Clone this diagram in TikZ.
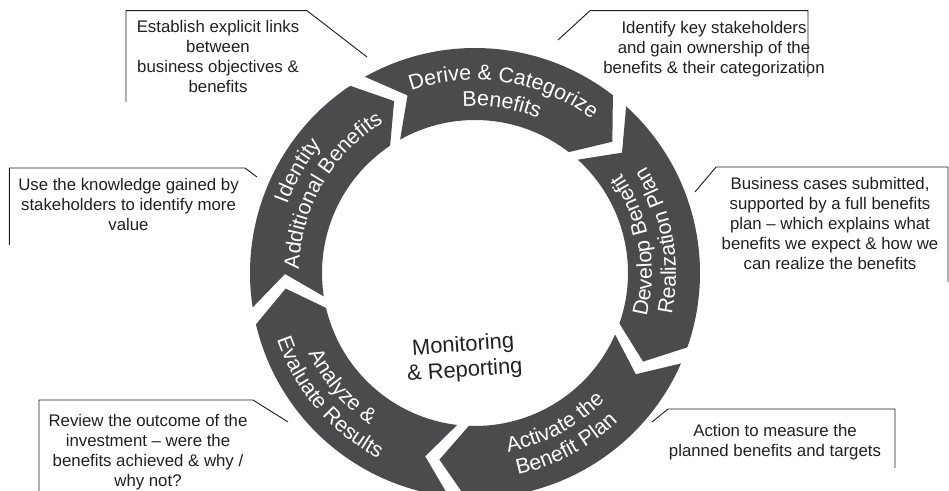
\documentclass[tikz,border=0pt]{standalone}
\usepackage{fontspec}
\setmainfont{Liberation Sans}
\definecolor{ringgray}{RGB}{74,75,77}
\definecolor{inkcol}{RGB}{35,31,32}
\newcommand\ringfont{\fontsize{16}{19}\selectfont}
\newcommand\callfont{\fontsize{12.6}{15}\selectfont}
\newcommand\ringRo{225}
\newcommand\ringRi{153}
\newcommand\ringRm{190}
\newcommand\ringGap{2.2}
\newcommand\ringTip{8.5}
% #1 trailing boundary angle, #2 leading boundary angle
\newcommand\chevseg[2]{%
  \fill[seg] ({#1-\ringGap}:\ringRo) arc[start angle={#1-\ringGap}, end angle={#2+\ringGap}, radius=\ringRo]
    -- ({#2+\ringGap-\ringTip}:\ringRm) -- ({#2+\ringGap}:\ringRi)
    arc[start angle={#2+\ringGap}, end angle={#1-\ringGap}, radius=\ringRi]
    -- ({#1-\ringGap-\ringTip}:\ringRm) -- cycle;}
% ---- glyph advance widths of Liberation Sans (1/1000 em) ----
\newcommand\setcw[2]{\expandafter\def\csname cw#1\endcsname{#2}}
\setcw{A}{667}\setcw{B}{667}\setcw{C}{722}\setcw{D}{722}\setcw{E}{667}
\setcw{I}{278}\setcw{P}{667}\setcw{R}{722}
\setcw{a}{556}\setcw{c}{500}\setcw{d}{556}\setcw{e}{556}\setcw{f}{278}
\setcw{g}{556}\setcw{h}{556}\setcw{i}{222}\setcw{l}{222}\setcw{n}{556}
\setcw{o}{556}\setcw{p}{556}\setcw{r}{333}\setcw{s}{500}\setcw{t}{278}
\setcw{u}{556}\setcw{v}{500}\setcw{y}{500}\setcw{z}{500}
\expandafter\def\csname cw\string\&\endcsname{667}
\expandafter\def\csname cw\string~\endcsname{278}
% ---- curved text, character by character ----
\newcounter{arcchar}
\def\arcend{ARCEND}
% one em of \ringfont = 16pt = 21.3333 picture units
\newcommand\arcem{0.0213333}
% #1 centre angle, #2 radius (picture units), #3 direction (1 = ccw, -1 = cw), #4 text (spaces as ~)
\newcommand\arctext[4]{%
  \gdef\arcsumv{0}%
  \arcsum#4\arcend
  \gdef\arcr{#2}\gdef\arcdir{#3}%
  \pgfmathparse{#1-(\arcdir)*\arcsumv*\arcem/\arcr*57.29578/2}\global\let\arccur\pgfmathresult
  \arcstep#4\arcend}
\def\arcsum#1{\ifx#1\arcend\else
  \pgfmathparse{\arcsumv+\csname cw\string#1\endcsname}\global\let\arcsumv\pgfmathresult
  \expandafter\arcsum\fi}
\def\arcstep#1{\ifx#1\arcend\else\arcput{#1}\expandafter\arcstep\fi}
\newcommand\arcput[1]{%
  \edef\arcwv{\csname cw\string#1\endcsname}%
  \pgfmathparse{\arccur+(\arcdir)*\arcwv*\arcem/\arcr*57.29578/2}\global\let\arcmid\pgfmathresult
  \pgfmathparse{\arcmid+(\arcdir)*90}\global\let\arcrot\pgfmathresult
  \stepcounter{arcchar}%
  \node[ringchar, rotate=\arcrot] (rc\thearcchar) at (\arcmid:\arcr) {#1};%
  \pgfmathparse{\arccur+(\arcdir)*\arcwv*\arcem/\arcr*57.29578}\global\let\arccur\pgfmathresult}
\begin{document}
\begin{tikzpicture}[x=0.75pt,y=0.75pt,
  seg/.style={fill=ringgray, draw=none},
  ringchar/.style={anchor=base, inner sep=0pt, outer sep=0pt, text=white, font=\ringfont},
  callline/.style={draw=inkcol, line width=0.7pt},
  calltext/.style={align=center, font=\callfont, text=inkcol, inner sep=0pt},
  centertext/.style={align=center, font=\fontsize{16.4}{19}\selectfont, text=inkcol, inner sep=0pt}]
\useasboundingbox (0,0) rectangle (949,491);

% ---------- ring ----------
\begin{scope}[shift={(475,218)}]
  \chevseg{121.5}{50}
  \chevseg{50}{-21.5}
  \chevseg{-21.5}{-94.5}
  \chevseg{-94.5}{-169}
  \chevseg{191}{121.5}

  % clockwise labels (tops outward)
  \arctext{81}{193}{-1}{Derive~\&~Categorize}
  \arctext{81}{167}{-1}{Benefits}
  \arctext{150}{200}{-1}{Identity}
  \arctext{150}{176}{-1}{Additional~Benefits}
  % counter-clockwise labels (tops inward)
  \arctext{10}{177}{1}{Develop~Benefit}
  \arctext{10}{201}{1}{Realization~Plan}
  \arctext{-62}{182}{1}{Activate~the}
  \arctext{-62}{206}{1}{Benefit~Plan}
  \arctext{-139.5}{185}{1}{Analyze~\&}
  \arctext{-139.5}{209}{1}{Evaluate~Results}
\end{scope}

\node[centertext, rotate=4] (centre) at (464,132.5) {Monitoring\\\& Reporting};

% ---------- callouts ----------
\coordinate (c1a) at (126,389);   \coordinate (c1b) at (126,480.3);
\coordinate (c1c) at (307,480.3); \coordinate (c1d) at (367,434);
\draw[callline] (c1a) -- (c1b) -- (c1c) -- (c1d);
\node[calltext] (t1) at (218,434) {Establish explicit links\\between\\business objectives \&\\benefits};

\coordinate (c2a) at (558,451);   \coordinate (c2b) at (590,480.3);
\coordinate (c2c) at (808,480.3); \coordinate (c2d) at (808,414);
\draw[callline] (c2a) -- (c2b) -- (c2c) -- (c2d);
\node[calltext] (t2) at (714,442) {Identify key stakeholders\\and gain ownership of the\\benefits \& their categorization};

\coordinate (c3a) at (9.3,246);   \coordinate (c3b) at (9.3,323);
\coordinate (c3c) at (245,323);   \coordinate (c3d) at (257,314);
\draw[callline] (c3a) -- (c3b) -- (c3c) -- (c3d);
\node[calltext] (t3) at (128.5,286) {Use the knowledge gained by\\stakeholders to identify more\\value};

\coordinate (c4a) at (695,299);   \coordinate (c4b) at (716,324);
\coordinate (c4c) at (948,324);   \coordinate (c4d) at (948,209);
\draw[callline] (c4a) -- (c4b) -- (c4c) -- (c4d);
\node[calltext] (t4) at (830,267) {Business cases submitted,\\supported by a full benefits\\plan -- which explains what\\benefits we expect \& how we\\can realize the benefits};

\coordinate (c5a) at (39,0);      \coordinate (c5b) at (39,91);
\coordinate (c5c) at (253,91);    \coordinate (c5d) at (288,69);
\draw[callline] (c5a) -- (c5b) -- (c5c) -- (c5d);
\node[calltext] (t5) at (148,39) {Review the outcome of the\\investment -- were the\\benefits achieved \& why /\\why not?};

\coordinate (c6a) at (652,69);    \coordinate (c6b) at (668,82);
\coordinate (c6c) at (895,82);    \coordinate (c6d) at (895,23);
\draw[callline] (c6a) -- (c6b) -- (c6c) -- (c6d);
\node[calltext] (t6) at (775,49) {Action to measure the\\planned benefits and targets};
\end{tikzpicture}
\end{document}
